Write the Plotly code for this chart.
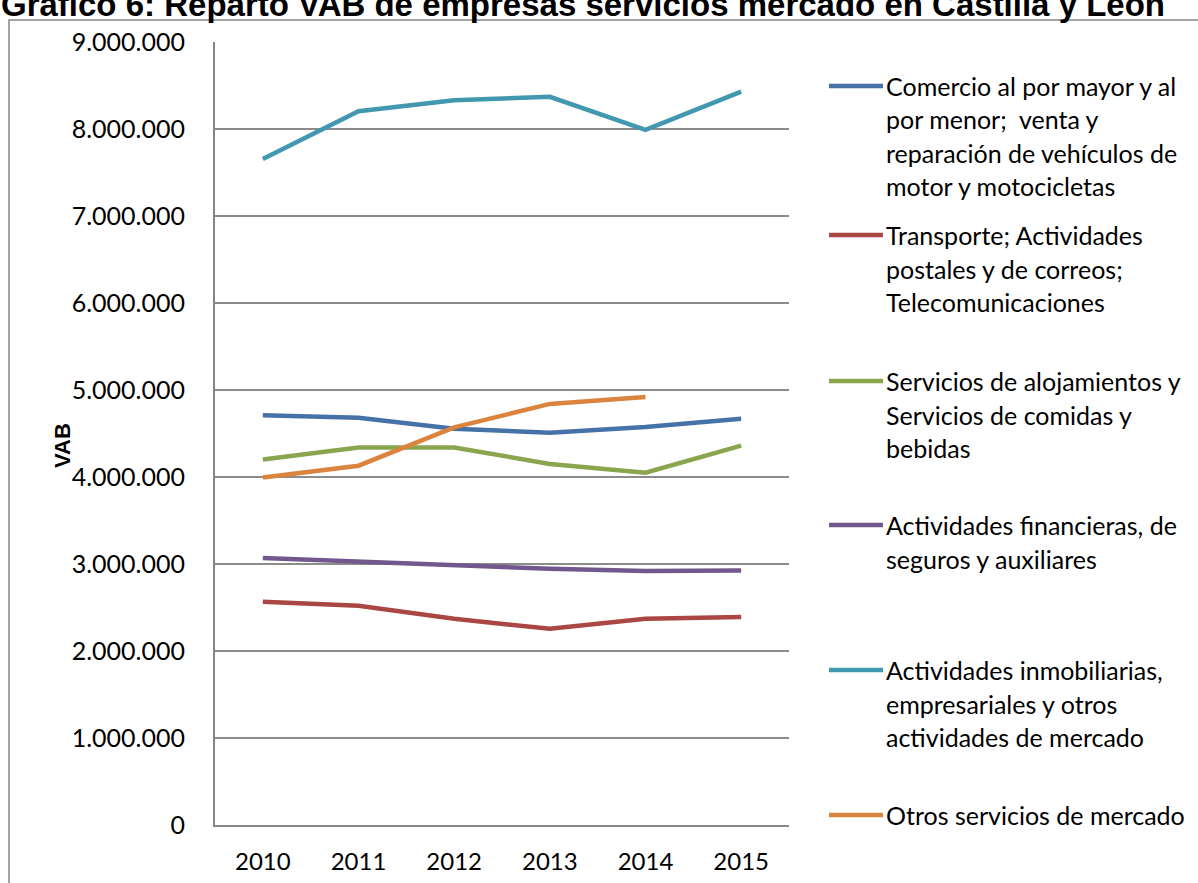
import plotly.graph_objects as go

years = ["2010", "2011", "2012", "2013", "2014", "2015"]

comercio = [4710000, 4680000, 4555000, 4510000, 4575000, 4670000]
transporte = [2565000, 2520000, 2370000, 2255000, 2370000, 2390000]
alojamiento = [4200000, 4340000, 4340000, 4150000, 4050000, 4360000]
financieras = [3070000, 3025000, 2980000, 2945000, 2920000, 2925000]
inmobiliarias = [7655000, 8205000, 8330000, 8370000, 7990000, 8430000]
otros = [3995000, 4130000, 4570000, 4840000, 4920000, None]

series_names = [
    ["Comercio al por mayor y al", "por menor;  venta y", "reparación de vehículos de", "motor y motocicletas"],
    ["Transporte; Actividades", "postales y de correos;", "Telecomunicaciones"],
    ["Servicios de alojamientos y", "Servicios de comidas y", "bebidas"],
    ["Actividades financieras, de", "seguros y auxiliares"],
    ["Actividades inmobiliarias,", "empresariales y otros", "actividades de mercado"],
    ["Otros servicios de mercado"],
]
series_values = [comercio, transporte, alojamiento, financieras, inmobiliarias, otros]
colors = ["#4572A7", "#AA4643", "#89A54E", "#71588F", "#4198AF", "#DB843D"]

title_text = "Gráfico 6: Reparto VAB de empresas servicios mercado en Castilla y León"
y_ticks = [0, 1000000, 2000000, 3000000, 4000000, 5000000, 6000000, 7000000, 8000000, 9000000]

W, H = 1198, 883
L, R, T, B = 215, 789, 42, 825

def px(x):
    return (x - L) / (R - L)

def py(y):
    return (B - y) / (B - T)

fig = go.Figure()
for name, vals, col in zip(series_names, series_values, colors):
    fig.add_trace(go.Scatter(
        x=years, y=vals, mode="lines", name=" ".join(name),
        line=dict(color=col, width=4.5), showlegend=False,
    ))

BODY = "Lato, 'Open Sans', sans-serif"
annotations = []
shapes = []
first_line_y = [86, 235, 381, 525, 670, 815]
line_h = 33.5
for lines, col, y0 in zip(series_names, colors, first_line_y):
    shapes.append(dict(type="line", xref="paper", yref="paper",
                       x0=px(829), x1=px(883), y0=py(y0), y1=py(y0),
                       line=dict(color=col, width=4.5)))
    for i, t in enumerate(lines):
        annotations.append(dict(text=t, xref="paper", yref="paper",
                                x=px(884), y=py(y0 + i * line_h),
                                xanchor="left", yanchor="middle", showarrow=False,
                                font=dict(family=BODY, size=25, color="#000000")))

annotations.append(dict(text="<b>VAB</b>", xref="paper", yref="paper",
                        x=px(62), y=py(446), xanchor="center", yanchor="middle",
                        textangle=-90, showarrow=False,
                        font=dict(family="Liberation Sans, Arial", size=22, color="#000000")))
annotations.append(dict(text="<b>" + title_text + "</b>", xref="paper", yref="paper",
                        x=px(-1), y=py(25), xanchor="left", yanchor="bottom",
                        showarrow=False,
                        font=dict(family="Liberation Sans, Arial", size=33, color="#000000")))

shapes.append(dict(type="rect", xref="paper", yref="paper",
                   x0=px(9), x1=px(1205), y0=py(20), y1=py(900),
                   line=dict(color="#868686", width=1.5), layer="below"))

fig.update_layout(
    width=W, height=H, autosize=False,
    margin=dict(l=L, r=W - R, t=T, b=H - B, pad=0, autoexpand=False),
    paper_bgcolor="white", plot_bgcolor="white",
    separators=",.",
    annotations=annotations, shapes=shapes, showlegend=False,
    xaxis=dict(type="category", range=[-0.5, 5.5], showgrid=False, showline=True,
               linecolor="#868686", linewidth=2, ticks="", ticklabelstandoff=14,
               automargin=False,
               tickfont=dict(family=BODY, size=24, color="#000000"), fixedrange=True),
    yaxis=dict(range=[0, 9000000], tickvals=y_ticks, tickformat=",d",
               showgrid=True, gridcolor="#8C8C8C", gridwidth=2,
               showline=True, linecolor="#868686", linewidth=2, zeroline=False,
               ticks="", ticklabelstandoff=23, automargin=False,
               tickfont=dict(family=BODY, size=25, color="#000000"), fixedrange=True),
)

fig.write_html("out.html", config={"displayModeBar": False},
               post_script="document.body.style.margin='0';")
